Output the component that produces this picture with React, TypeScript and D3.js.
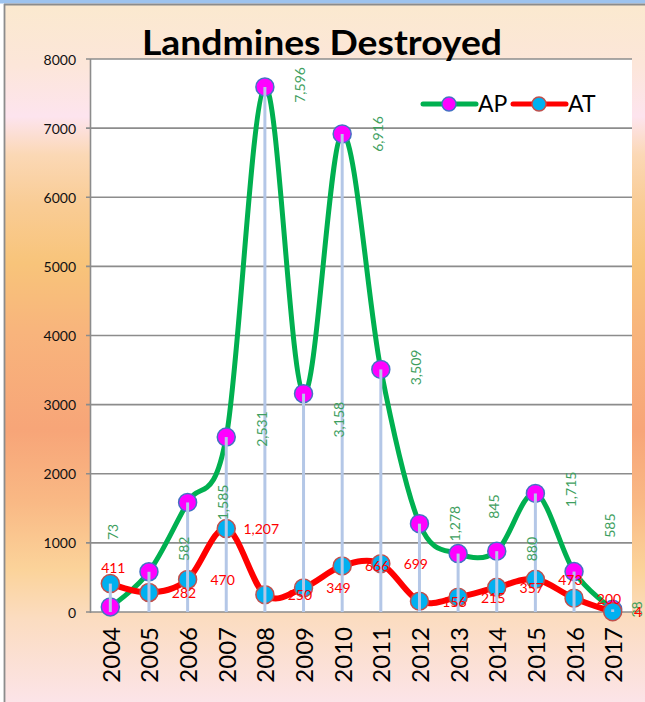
import React from "react";
import * as d3 from "d3";

// chart data
const years = ["2004", "2005", "2006", "2007", "2008", "2009", "2010", "2011", "2012", "2013", "2014", "2015", "2016", "2017"];
const apValues = [73, 582, 1585, 2531, 7596, 3158, 6916, 3509, 1278, 845, 880, 1715, 585, 38];
const atValues = [411, 282, 470, 1207, 250, 349, 666, 699, 156, 215, 357, 473, 200, 4];
const yTicks = [0, 1000, 2000, 3000, 4000, 5000, 6000, 7000, 8000];
const seriesNames = ["AP", "AT"];
const title = "Landmines Destroyed";

// label nudges (px, vertical) for the AP labels that were hand-moved in the original
const apLabelLift = [75, 23, 0, 8, 2, -26, 0, 2, 0, 47, 2, 4, 46, 0];

const W = 645;
const H = 702;
const FONT = "Lato, 'Open Sans', sans-serif";

const bgStops: [number, string][] = [
  [0, "#fbe9cf"],
  [0.085, "#fce6d9"],
  [0.16, "#fde4ee"],
  [0.215, "#fbd8b5"],
  [0.285, "#f9cc95"],
  [0.37, "#f8c47a"],
  [0.47, "#f8b47c"],
  [0.61, "#f7a578"],
  [0.71, "#f9b884"],
  [0.81, "#fbd39a"],
  [0.88, "#fbdcc0"],
  [1, "#fce4e8"],
];

const App = () => {
  const x = d3.scaleBand<string>().domain(years).range([91, 632]).padding(0);
  const y = d3.scaleLinear().domain([0, 8000]).range([612, 59]);
  const cx = (i: number) => (x(years[i]) as number) + x.bandwidth() / 2;
  const fmt = d3.format(",");

  const line = d3
    .line<number>()
    .x((_, i) => cx(i))
    .y((d) => y(d))
    .curve(d3.curveCatmullRom.alpha(0));

  const apColor = "#00b050";
  const atColor = "#ff0000";
  const labelRight = 35;

  return (
    <svg width={W} height={H} style={{ position: "absolute", left: 0, top: 0, display: "block" }}>
      <defs>
        <linearGradient id="bg" x1="0" y1="0" x2="0" y2="1">
          {bgStops.map(([o, c]) => (
            <stop key={o} offset={o} stopColor={c} />
          ))}
        </linearGradient>
      </defs>
      <rect x={0} y={0} width={W} height={H} fill="#fff" />
      <rect x={5} y={5} width={W - 5} height={H - 5} fill="url(#bg)" />
      <rect x={0} y={0} width={W} height={3.5} fill="#9dc3ee" />
      <line x1={4} x2={W} y1={4.5} y2={4.5} stroke="#8c8c8c" strokeWidth={1.8} />
      <line x1={4.5} x2={4.5} y1={4} y2={H} stroke="#8c8c8c" strokeWidth={1.8} />

      {/* plot area */}
      <rect x={91} y={59} width={541} height={553} fill="#fff" />

      {/* grid + y axis */}
      {yTicks.map((t) => (
        <g key={t}>
          <line x1={86} x2={632} y1={y(t)} y2={y(t)} stroke="#8c8c8c" strokeWidth={1.6} />
          <text x={76} y={y(t)} textAnchor="end" dominantBaseline="central" fontSize={14} fontFamily={FONT} fill="#111">
            {t}
          </text>
        </g>
      ))}
      <line x1={90.5} x2={90.5} y1={59} y2={613} stroke="#8c8c8c" strokeWidth={1.6} />

      {/* x labels */}
      {years.map((yr, i) => (
        <text
          key={yr}
          transform={`translate(${cx(i)},627) rotate(-90)`}
          textAnchor="end"
          dominantBaseline="central"
          fontSize={24}
          fontFamily={FONT}
          fill="#000"
        >
          {yr}
        </text>
      ))}

      {/* AP series */}
      <path d={line(apValues) || ""} fill="none" stroke={apColor} strokeWidth={5} />
      {apValues.map((v, i) => (
        <circle key={"ap" + i} cx={cx(i)} cy={y(v)} r={9} fill="#ff00ff" stroke="#4472c4" strokeWidth={1.5} />
      ))}

      {/* AT series */}
      <path d={line(atValues) || ""} fill="none" stroke={atColor} strokeWidth={6} />
      {atValues.map((v, i) => (
        <circle key={"at" + i} cx={cx(i)} cy={y(v)} r={9} fill="#00b0f0" stroke="#c0504d" strokeWidth={1.5} />
      ))}

      {/* drop lines */}
      {years.map((yr, i) => (
        <line
          key={"drop" + yr}
          x1={cx(i)}
          x2={cx(i)}
          y1={y(Math.max(apValues[i], atValues[i]))}
          y2={y(0)}
          stroke="#b4c7e7"
          strokeWidth={3}
        />
      ))}

      {/* data labels */}
      {apValues.map((v, i) => {
        const lx = i === 0 ? cx(i) + 2 : Math.min(cx(i) + labelRight, W - 9);
        const ly = y(v) - apLabelLift[i];
        return (
          <text
            key={"apl" + i}
            transform={`translate(${lx},${ly}) rotate(-90)`}
            textAnchor="middle"
            dominantBaseline="central"
            fontSize={14}
            fontFamily={FONT}
            fill="#3f9f5f"
          >
            {fmt(v)}
          </text>
        );
      })}
      {atValues.map((v, i) => {
        const lx = i === 0 ? cx(i) + 3 : Math.min(cx(i) + labelRight, W - 7);
        const ly = i === 0 ? y(v) - 16 : y(v);
        return (
          <text
            key={"atl" + i}
            x={lx}
            y={ly}
            textAnchor="middle"
            dominantBaseline="central"
            fontSize={14}
            fontFamily={FONT}
            fill={atColor}
          >
            {fmt(v)}
          </text>
        );
      })}

      {/* title */}
      <text
        x={322}
        y={55}
        textAnchor="middle"
        fontSize={35}
        fontWeight="bold"
        fontFamily={FONT}
        fill="#000"
        textLength={360}
        lengthAdjust="spacingAndGlyphs"
      >
        {title}
      </text>

      {/* legend */}
      {seriesNames.map((name, k) => {
        const x0 = 423 + k * 90;
        const col = k === 0 ? apColor : atColor;
        return (
          <g key={name}>
            <line x1={x0} x2={x0 + 53} y1={104} y2={104} stroke={col} strokeWidth={5} strokeLinecap="round" />
            <circle
              cx={x0 + 26}
              cy={104}
              r={7}
              fill={k === 0 ? "#ff00ff" : "#00b0f0"}
              stroke={k === 0 ? "#4472c4" : "#c0504d"}
              strokeWidth={1.5}
            />
            <text x={x0 + 55} y={112} fontSize={23} fontFamily={FONT} fill="#000">
              {name}
            </text>
          </g>
        );
      })}
    </svg>
  );
};

export default App;
